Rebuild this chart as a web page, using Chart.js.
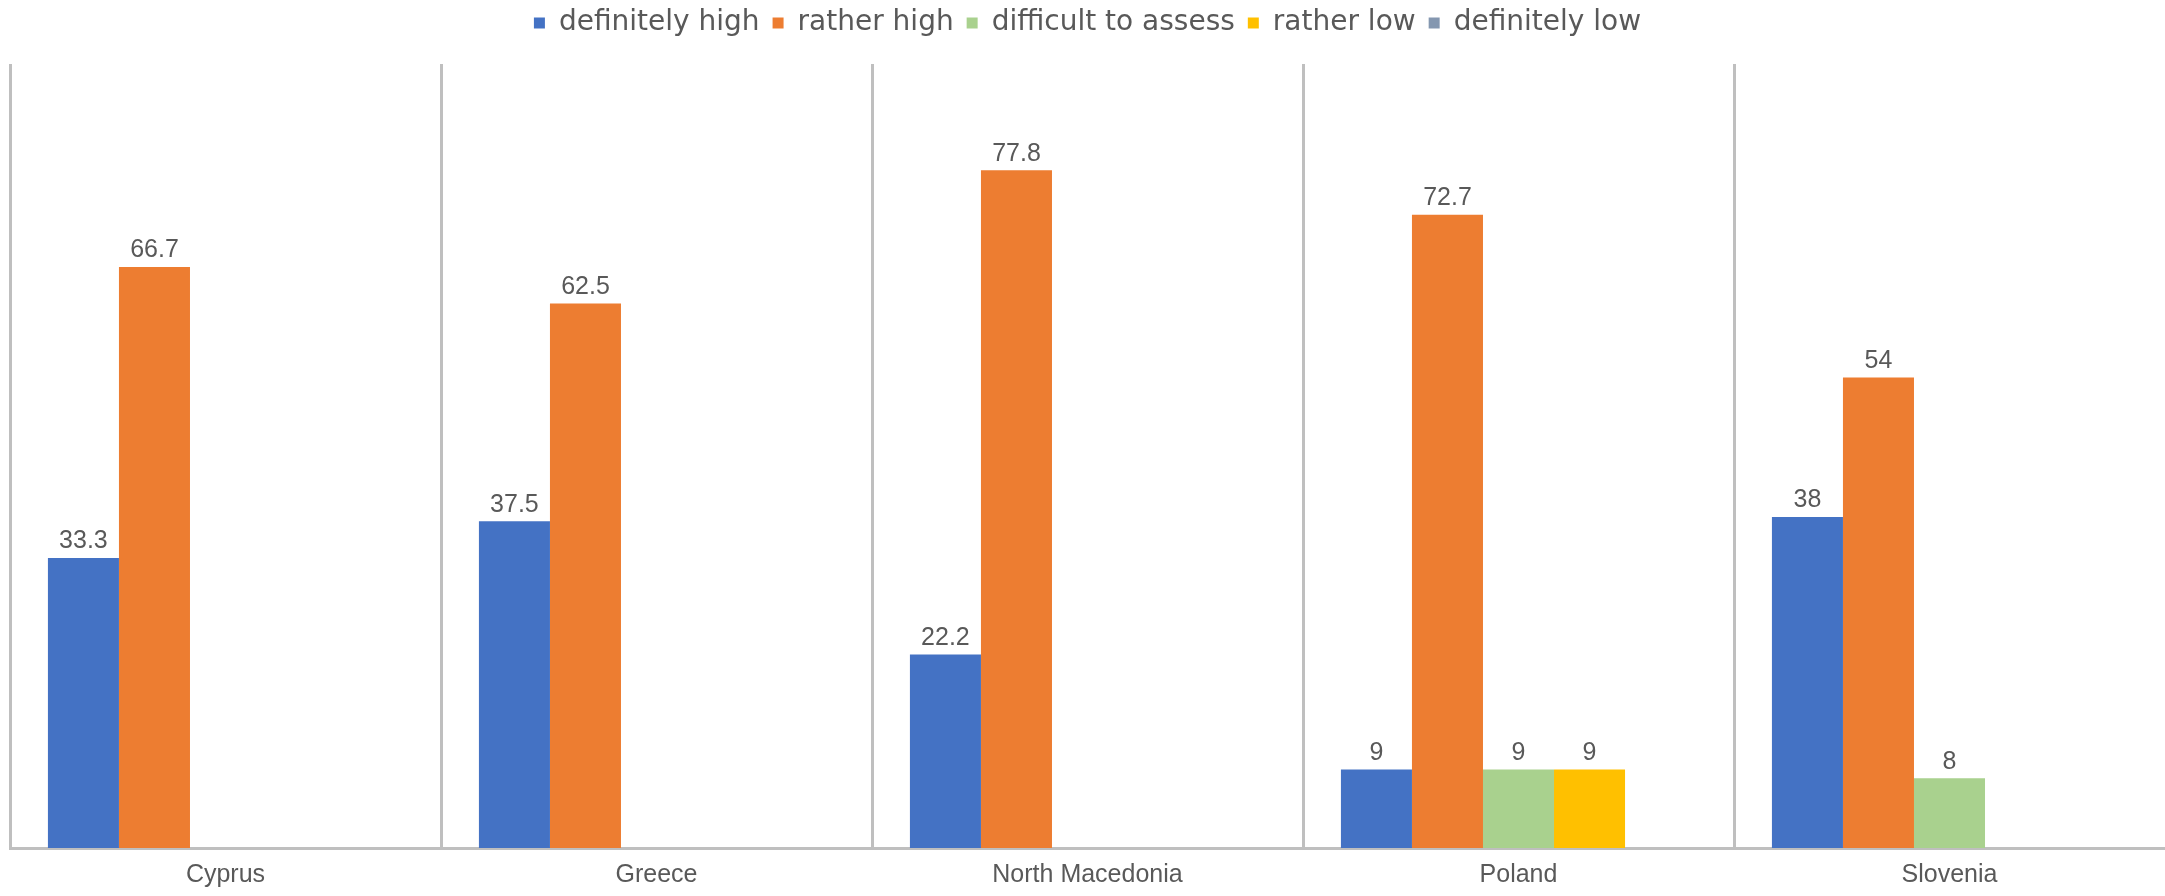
<!DOCTYPE html>
<html>
<head>
<meta charset="utf-8">
<script src="https://cdn.jsdelivr.net/npm/chart.js@4/dist/chart.umd.min.js"></script>
<style>
  html, body { margin: 0; padding: 0; background: #fff; }
  #wrap { width: 2165px; height: 896px; }
</style>
</head>
<body>
<div id="wrap"><canvas id="chart" width="2165" height="896"></canvas></div>
<script>
// data
const countries = ['Cyprus', 'Greece', 'North Macedonia', 'Poland', 'Slovenia'];
const definitelyHigh = [33.3, 37.5, 22.2, 9, 38];
const ratherHigh = [66.7, 62.5, 77.8, 72.7, 54];
const difficultToAssess = [null, null, null, 9, 8];
const ratherLow = [null, null, null, 9, null];
const definitelyLow = [null, null, null, null, null];

const textColor = '#595959';
const lineColor = '#BFBFBF';

// simple value labels above each bar
const valueLabels = {
    id: 'valueLabels',
    afterDatasetsDraw(chart) {
        const ctx = chart.ctx;
        ctx.save();
        ctx.font = '25px "Liberation Sans", Arial, sans-serif';
        ctx.fillStyle = textColor;
        ctx.textAlign = 'center';
        ctx.textBaseline = 'bottom';
        chart.data.datasets.forEach((ds, i) => {
            const meta = chart.getDatasetMeta(i);
            meta.data.forEach((bar, j) => {
                const v = ds.data[j];
                if (v === null || v === undefined) return;
                ctx.fillText(String(v), bar.x, bar.y - 4);
            });
        });
        ctx.restore();
    }
};

// a bit more room between legend and plot
const legendGap = {
    id: 'legendGap',
    beforeInit(chart) {
        const origFit = chart.legend.fit;
        chart.legend.fit = function () {
            origFit.bind(chart.legend)();
            this.height += 17;
        };
    }
};

const ctx = document.getElementById('chart').getContext('2d');
new Chart(ctx, {
    type: 'bar',
    data: {
        labels: countries,
        datasets: [
            { label: 'definitely high', data: definitelyHigh, backgroundColor: '#4472C4' },
            { label: 'rather high', data: ratherHigh, backgroundColor: '#ED7D31' },
            { label: 'difficult to assess', data: difficultToAssess, backgroundColor: '#A9D18E' },
            { label: 'rather low', data: ratherLow, backgroundColor: '#FFC000' },
            { label: 'definitely low', data: definitelyLow, backgroundColor: '#8497B0' }
        ]
    },
    options: {
        responsive: false,
        animation: false,
        devicePixelRatio: 1,
        layout: { padding: { top: -4, left: 10, right: 0, bottom: -6 } },
        datasets: {
            bar: { barPercentage: 1, categoryPercentage: 0.824 }
        },
        scales: {
            x: {
                grid: {
                    offset: true,
                    drawTicks: false,
                    lineWidth: 3,
                    color: c => c.type === 'tick' ? lineColor : 'rgba(0,0,0,0)'
                },
                border: { display: true, color: lineColor, width: 3 },
                ticks: {
                    color: textColor,
                    padding: 12,
                    font: { family: '"Liberation Sans", Arial, sans-serif', size: 25 }
                }
            },
            y: {
                display: false,
                min: 0,
                max: 90
            }
        },
        plugins: {
            legend: {
                position: 'top',
                labels: {
                    color: textColor,
                    boxWidth: 11,
                    boxHeight: 11,
                    padding: 13,
                    font: { family: '"DejaVu Sans", sans-serif', size: 28 }
                }
            },
            tooltip: { enabled: false }
        }
    },
    plugins: [valueLabels, legendGap]
});
</script>
</body>
</html>
